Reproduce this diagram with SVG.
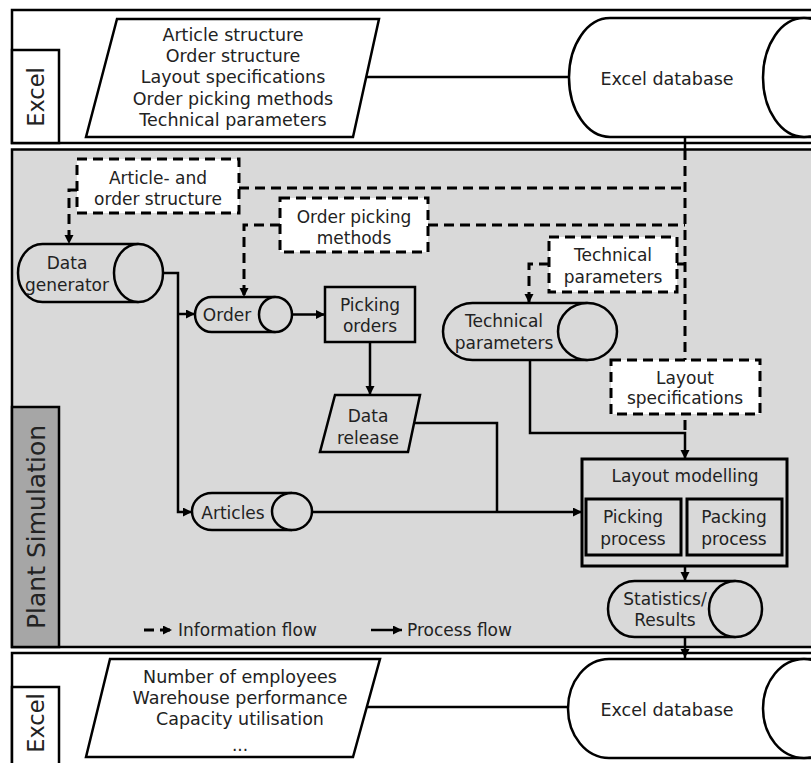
<svg xmlns="http://www.w3.org/2000/svg" width="811" height="763" viewBox="0 0 811 763">
<style>
.ln{fill:none;stroke:#000;stroke-width:2.5}
.dl{fill:none;stroke:#000;stroke-width:3;stroke-dasharray:10 6}
.db{fill:#fff;stroke:#000;stroke-width:3;stroke-dasharray:10 6}
.sh{fill:#d9d9d9;stroke:#000;stroke-width:2.5}
.wh{fill:#fff;stroke:#000;stroke-width:2.5}
.t{font-family:"DejaVu Sans","Liberation Sans",sans-serif;font-size:17px;fill:#222;text-anchor:middle;dominant-baseline:central}
.tb{font-size:17.5px}
.lab{font-family:"DejaVu Sans","Liberation Sans",sans-serif;fill:#222;text-anchor:middle;dominant-baseline:central}
</style>
<defs>
<marker id="ar" markerUnits="userSpaceOnUse" markerWidth="10" markerHeight="10" refX="9" refY="4.5" orient="auto">
<path d="M0,0 L9,4.5 L0,9 z" fill="#000"/>
</marker>
</defs>

<!-- Panels -->
<g id="panel-excel-top">
<rect x="12" y="10" width="830" height="133" fill="#fff" stroke="#000" stroke-width="2.5"/>
<rect x="12" y="50" width="47" height="93" fill="#fff" stroke="#000" stroke-width="2.5"/>
<text class="lab" font-size="22.5" transform="translate(36,97) rotate(-90)">Excel</text>
</g>
<g id="panel-plant">
<rect x="12" y="149.5" width="830" height="497.5" fill="#d9d9d9" stroke="#000" stroke-width="2.5"/>
<rect x="12" y="407" width="47" height="240" fill="#a6a6a6" stroke="#000" stroke-width="2.5"/>
<text class="lab" font-size="25" transform="translate(36,527) rotate(-90)">Plant Simulation</text>
</g>
<g id="panel-excel-bottom">
<rect x="12" y="653" width="830" height="130" fill="#fff" stroke="#000" stroke-width="2.5"/>
<rect x="12" y="687" width="47" height="96" fill="#fff" stroke="#000" stroke-width="2.5"/>
<text class="lab" font-size="22.5" transform="translate(36,723) rotate(-90)">Excel</text>
</g>

<!-- Connectors -->
<g id="connectors">
<path class="ln" d="M367,77 H569"/>
<path class="ln" d="M367,707 H568"/>
<path class="ln" d="M685,137 V150"/>
<path class="dl" d="M685,150 V360"/>
<path class="dl" d="M239,188 H685"/>
<path class="dl" d="M77,190 H69 V244" marker-end="url(#ar)"/>
<path class="dl" d="M428,225 H685"/>
<path class="dl" d="M280,225 H244 V297" marker-end="url(#ar)"/>
<path class="dl" d="M549,264 H529 V303" marker-end="url(#ar)"/>
<path class="dl" d="M677,264 H685"/>
<path class="dl" d="M685,414 V433" stroke-dashoffset="-6"/>
<path class="ln" d="M163,273 H178 V512 H192" marker-end="url(#ar)"/>
<path class="ln" d="M178,314 H195" marker-end="url(#ar)"/>
<path class="ln" d="M292,314.5 H325" marker-end="url(#ar)"/>
<path class="ln" d="M370,342 V395" marker-end="url(#ar)"/>
<path class="ln" d="M413,423 H497 V512"/>
<path class="ln" d="M312,512 H582" marker-end="url(#ar)"/>
<path class="ln" d="M530,360 V433 H685 V459" marker-end="url(#ar)"/>
<path class="ln" d="M685,566 V581" marker-end="url(#ar)"/>
<path class="ln" d="M685,637 V658" marker-end="url(#ar)"/>
</g>

<!-- Top Excel nodes -->
<g id="input-data">
<polygon class="wh" points="117,19 379,19 353,137 86,137"/>
<text class="t tb" x="233" y="35">Article structure</text>
<text class="t tb" x="233" y="56">Order structure</text>
<text class="t tb" x="233" y="77">Layout specifications</text>
<text class="t tb" x="233" y="99">Order picking methods</text>
<text class="t tb" x="233" y="120">Technical parameters</text>
</g>
<g id="excel-db-top">
<path class="wh" d="M850,18 H610 A41,59.5 0 0 0 610,137 H850"/>
<ellipse class="wh" cx="804" cy="77.5" rx="41" ry="59.5"/>
<text class="t tb" x="667" y="79">Excel database</text>
</g>

<!-- Plant Simulation nodes -->
<g id="dash-article-order">
<rect class="db" x="77" y="159" width="162" height="54"/>
<text class="t" x="158" y="178">Article- and</text>
<text class="t" x="158" y="199">order structure</text>
</g>
<g id="dash-order-picking">
<rect class="db" x="280" y="198" width="148" height="54"/>
<text class="t" x="354" y="217">Order picking</text>
<text class="t" x="354" y="238">methods</text>
</g>
<g id="dash-technical">
<rect class="db" x="549" y="237" width="128" height="55"/>
<text class="t" x="613" y="255">Technical</text>
<text class="t" x="613" y="277">parameters</text>
</g>
<g id="dash-layout">
<rect class="db" x="611" y="360" width="149" height="54"/>
<text class="t" x="685" y="378">Layout</text>
<text class="t" x="685" y="398">specifications</text>
</g>
<g id="data-generator">
<path class="sh" d="M138.5,244 H42.5 A24.5,29 0 0 0 42.5,302 H138.5"/>
<ellipse class="sh" cx="138.5" cy="273" rx="24.5" ry="29"/>
<text class="t" x="67" y="263">Data</text>
<text class="t" x="67" y="285">generator</text>
</g>
<g id="order">
<path class="sh" d="M275.5,297 H211.5 A16.5,17.5 0 0 0 211.5,332 H275.5"/>
<ellipse class="sh" cx="275.5" cy="314.5" rx="16.5" ry="17.5"/>
<text class="t" x="227" y="315">Order</text>
</g>
<g id="picking-orders">
<rect class="sh" x="325" y="287" width="90" height="55"/>
<text class="t" x="370" y="305">Picking</text>
<text class="t" x="370" y="326">orders</text>
</g>
<g id="data-release">
<polygon class="sh" points="335,395 420,395 408,452 320,452"/>
<text class="t" x="368" y="416">Data</text>
<text class="t" x="368" y="438">release</text>
</g>
<g id="articles">
<path class="sh" d="M292,493 H212 A20,18.5 0 0 0 212,530 H292"/>
<ellipse class="sh" cx="292" cy="511.5" rx="20" ry="18.5"/>
<text class="t" x="233" y="513">Articles</text>
</g>
<g id="technical-parameters">
<path class="sh" d="M587.5,303 H472.5 A29.5,28.5 0 0 0 472.5,360 H587.5"/>
<ellipse class="sh" cx="587.5" cy="331.5" rx="29.5" ry="28.5"/>
<text class="t" x="504" y="321">Technical</text>
<text class="t" x="504" y="343">parameters</text>
</g>
<g id="layout-modelling">
<rect x="582" y="459" width="205" height="107" fill="#d9d9d9" stroke="#000" stroke-width="3"/>
<text class="t" x="685" y="476">Layout modelling</text>
</g>
<g id="picking-process">
<rect x="586" y="499" width="95" height="56" fill="#d9d9d9" stroke="#000" stroke-width="3"/>
<text class="t" x="633" y="517">Picking</text>
<text class="t" x="633" y="539">process</text>
</g>
<g id="packing-process">
<rect x="687" y="499" width="95" height="56" fill="#d9d9d9" stroke="#000" stroke-width="3"/>
<text class="t" x="734" y="517">Packing</text>
<text class="t" x="734" y="539">process</text>
</g>
<g id="statistics">
<path class="sh" d="M735.5,581 H634.5 A26.5,28 0 0 0 634.5,637 H735.5"/>
<ellipse class="sh" cx="735.5" cy="609" rx="26.5" ry="28"/>
<text class="t" x="665" y="599">Statistics/</text>
<text class="t" x="665" y="620">Results</text>
</g>
<g id="legend">
<path class="dl" d="M144,630 H172" marker-end="url(#ar)"/>
<text class="t" x="178" y="630" style="text-anchor:start">Information flow</text>
<path class="ln" d="M371,630 H402" marker-end="url(#ar)"/>
<text class="t" x="407" y="630" style="text-anchor:start">Process flow</text>
</g>

<!-- Bottom Excel nodes -->
<g id="output-data">
<polygon class="wh" points="110,659 380,659 353,757 86,757"/>
<text class="t tb" x="240" y="677">Number of employees</text>
<text class="t tb" x="240" y="698">Warehouse performance</text>
<text class="t tb" x="240" y="719">Capacity utilisation</text>
<text class="t" x="240" y="745" font-size="12">...</text>
</g>
<g id="excel-db-bottom">
<path class="wh" d="M850,659 H609 A41,49.5 0 0 0 609,758 H850"/>
<ellipse class="wh" cx="804" cy="708.5" rx="41" ry="49.5"/>
<text class="t tb" x="667" y="710">Excel database</text>
</g>
</svg>
